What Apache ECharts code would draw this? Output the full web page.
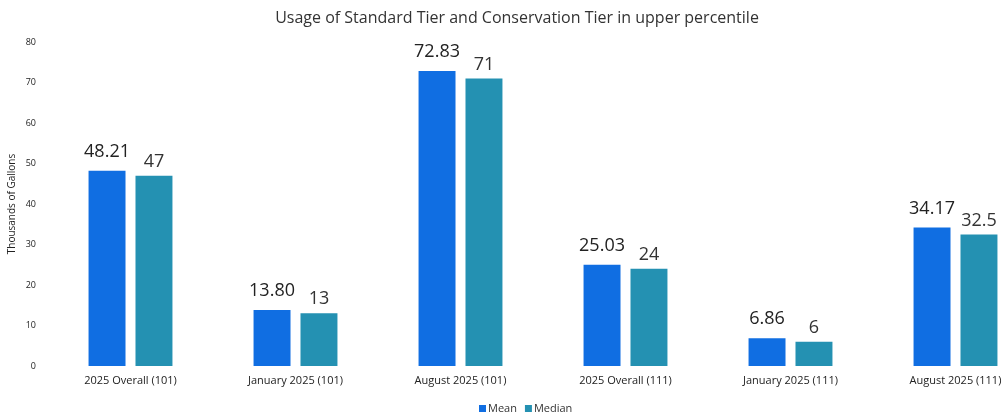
<!DOCTYPE html>
<html>
<head>
<meta charset="utf-8">
<script src="https://cdn.jsdelivr.net/npm/echarts@6/dist/echarts.min.js"></script>
<style>
  html, body { margin: 0; padding: 0; background: #fff; }
  #chart { width: 1003px; height: 420px; }
</style>
</head>
<body>
<div id="chart"></div>
<script>
var categories = ["2025 Overall (101)", "January 2025 (101)", "August 2025 (101)",
                  "2025 Overall (111)", "January 2025 (111)", "August 2025 (111)"];
var meanValues = [48.21, 13.80, 72.83, 25.03, 6.86, 34.17];
var medianValues = [47, 13, 71, 24, 6, 32.5];
var yTicks = { min: 0, max: 80, interval: 10 };

var font = "Open Sans";
var chart = echarts.init(document.getElementById("chart"));
var option = {
  animation: false,
  textStyle: { fontFamily: font },
  title: {
    text: "Usage of Standard Tier and Conservation Tier in upper percentile",
    left: 512,
    textAlign: "center",
    top: 5,
    textStyle: { fontFamily: font, fontSize: 16, fontWeight: "normal", color: "#333" }
  },
  legend: {
    data: ["Mean", "Median"],
    bottom: 1,
    left: 474,
    itemWidth: 7,
    itemHeight: 7,
    itemGap: 8,
    icon: "rect",
    textStyle: { fontFamily: font, fontSize: 11, color: "#333", padding: [0, 0, 0, -3] }
  },
  // v6 grid keeps labels inside by default; switch that off so the plot spans like the source
  grid: { left: 48, width: 990, top: 42, bottom: 54, containLabel: false, outerBoundsMode: "none" },
  xAxis: {
    type: "category",
    data: categories,
    axisLine: { show: false },
    axisTick: { show: false },
    axisLabel: { fontFamily: font, fontSize: 11, color: "#222", margin: 9 }
  },
  yAxis: {
    type: "value",
    min: yTicks.min,
    max: yTicks.max,
    interval: yTicks.interval,
    name: "Thousands of Gallons",
    nameLocation: "middle",
    nameRotate: 90,
    nameGap: 31,
    nameMoveOverlap: false,
    nameTextStyle: { fontFamily: font, fontSize: 10, color: "#222" },
    axisLine: { show: false },
    axisTick: { show: false },
    splitLine: { show: false },
    axisLabel: { fontFamily: font, fontSize: 9, color: "#222", margin: 12 }
  },
  series: [{
    name: "Mean",
    type: "bar",
    data: meanValues,
    barWidth: "22.4%",
    barGap: "27%",
    itemStyle: { color: "#106ee2" },
    label: {
      show: true,
      position: "top",
      distance: 10,
      fontFamily: font,
      fontSize: 18,
      color: "#222",
      formatter: function (p) { return p.value.toFixed(2); }
    }
  }, {
    name: "Median",
    type: "bar",
    data: medianValues,
    barWidth: "22.4%",
    itemStyle: { color: "#2491b2" },
    label: {
      show: true,
      position: "top",
      distance: 5,
      fontFamily: font,
      fontSize: 18,
      color: "#333"
    }
  }]
};
chart.setOption(option);
</script>
</body>
</html>
